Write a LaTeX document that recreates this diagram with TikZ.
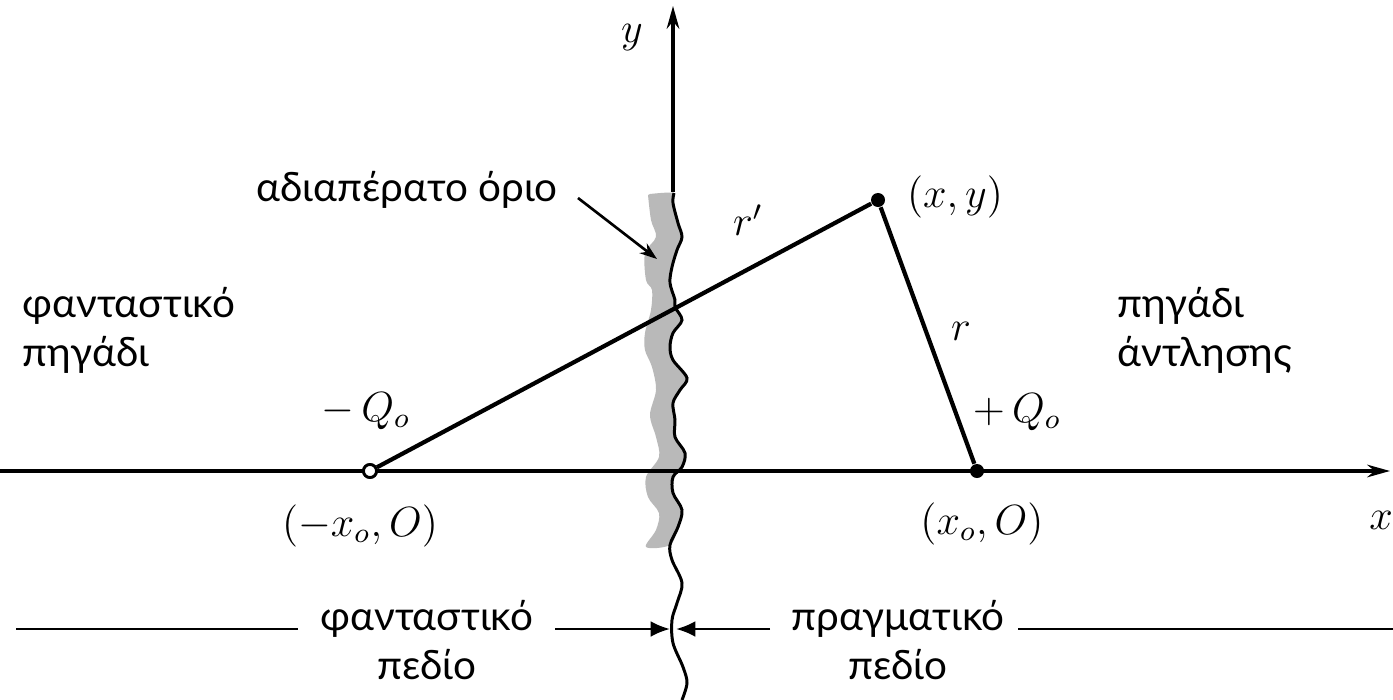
\documentclass[tikz,border=0pt]{standalone}
\usepackage{fontspec}
\setmainfont{Lato}
\usetikzlibrary{arrows.meta}
\begin{document}
\begin{tikzpicture}[x=0.01cm,y=-0.01cm,
  axis/.style={line width=0.9pt},
  rline/.style={line width=1.2pt},
  wave/.style={line width=0.85pt},
  thin line/.style={line width=0.75pt},
  mlbl/.style={inner sep=0pt,font=\fontsize{12}{14}\selectfont},
  greek/.style={inner sep=0pt,align=left,font=\fontsize{11.5}{14}\selectfont},
  greekc/.style={inner sep=0pt,align=center,font=\fontsize{11.5}{14}\selectfont},
  opendot/.style={circle,draw,line width=0.8pt,fill=white,inner sep=0pt,minimum size=0.13cm},
  fulldot/.style={circle,fill,inner sep=0pt,minimum size=0.14cm}]
\useasboundingbox (0,0) rectangle (1393,700);
\fill[white] (0,0) rectangle (1393,700);
% gray impermeable boundary band
\fill[gray!55] plot[smooth,tension=0.55] coordinates {
 (650,194)(674,193)(673,203)(678,223)(682,237)(677,250)(672,267)(670,283)(675,300)(675,307)(682,320)(673,333)(670,347)(673,360)(687,378)(680,390)(673,403)(675,420)(675,437)(685,453)(682,467)(673,477)(673,493)(682,510)(678,527)(670,545)
 (646,547)(656,530)(659,513)(648,497)(646,477)(659,457)(656,437)(650,415)(656,390)(652,367)(645,350)(645,333)(651,310)(652,290)(646,280)(645,253)(656,237)(651,220)(648,195)} -- cycle;
% wavy boundary line
\draw[wave] plot[smooth,tension=0.55] coordinates {
 (674,193)(673,203)(678,223)(682,237)(677,250)(672,267)(670,283)(675,300)(675,307)(682,320)(673,333)(670,347)(673,360)(687,378)(680,390)(673,403)(675,420)(675,437)(685,453)(682,467)(673,477)(673,493)(682,510)(678,527)(670,545)(672,560)(682,583)(677,603)(672,620)(673,643)(683,667)(687,683)(682,700)};
% axes
\coordinate (xl) at (0,471);
\coordinate (xr) at (1390,471);
\coordinate (yb) at (673,192);
\coordinate (yt) at (673,6);
\draw[axis,-{Stealth[length=6.5pt,width=3.6pt]}] (xl) -- (xr);
\draw[axis,-{Stealth[length=6.5pt,width=3.6pt]}] (yb) -- (yt);
\node[mlbl] (ylab) at (632,38) {$y$};
\node[mlbl] (xlab) at (1381,520) {$x$};
% wells and point
\node[opendot] (A) at (370,471) {};
\node[fulldot] (B) at (977,471) {};
\node[fulldot] (P) at (878,200) {};
\draw[rline] (A) -- (P) -- (B);
\node[opendot] at (A) {};
% labels
\node[mlbl] (rp) at (748,220) {$r'$};
\node[mlbl] (r) at (961,331) {$r$};
\node[mlbl] (pxy) at (955,197) {$(x,y)$};
\node[mlbl] (qm) at (366,411) {$-\,Q_o$};
\node[mlbl] (qp) at (1017,412) {$+\,Q_o$};
\node[mlbl] (am) at (360,526) {$(-x_o,O)$};
\node[mlbl] (bp) at (982,524) {$(x_o,O)$};
% boundary label with arrow
\node[greekc] (bnd) at (407,190) {αδιαπέρατο όριο};
\coordinate (bs) at (578,198);
\coordinate (be) at (657,259);
\draw[thin line,-{Stealth[length=5pt,width=3.5pt]}] (bs) -- (be);
% side labels
\node[greek,anchor=west] (imw) at (22,330) {φανταστικό\\πηγάδι};
\node[greek,anchor=west] (pw) at (1117,330) {πηγάδι\\άντλησης};
% bottom domains
\node[greekc] (imd) at (427,640) {φανταστικό\\πεδίο};
\node[greekc] (red) at (898,640) {πραγματικό\\πεδίο};
\coordinate (l1) at (16,629);
\coordinate (l2) at (298,629);
\coordinate (a1) at (555,629);
\coordinate (a2) at (670,629);
\coordinate (b1) at (770,629);
\coordinate (b2) at (676,629);
\coordinate (m1) at (1018,629);
\coordinate (m2) at (1393,629);
\draw[thin line] (l1) -- (l2);
\draw[thin line] (m1) -- (m2);
\draw[thin line,-{Latex[length=5.5pt,width=4.5pt]}] (a1) -- (a2);
\draw[thin line,-{Latex[length=5.5pt,width=4.5pt]}] (b1) -- (b2);
\end{tikzpicture}
\end{document}
